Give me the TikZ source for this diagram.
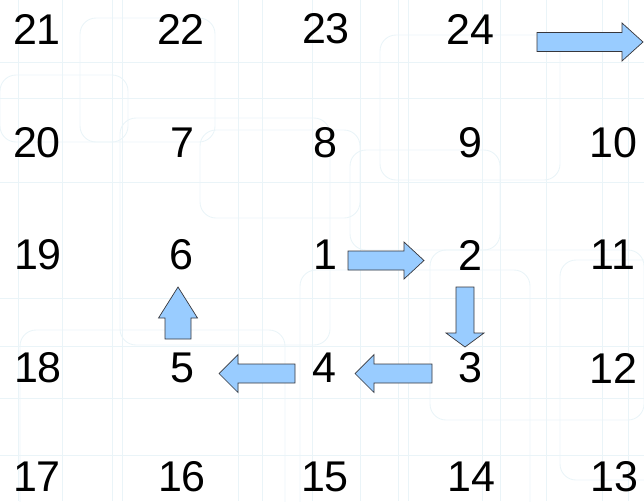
\documentclass[tikz,border=0pt]{standalone}
\usepackage{fontspec}
\newfontfamily\numfont{Liberation Sans}
\definecolor{arrowblue}{RGB}{153,204,255}
\definecolor{arrowline}{RGB}{55,55,60}
\definecolor{bgline}{RGB}{234,244,248}
% block arrow: tip, turn, length, half shaft, half head, head length
\newcommand\blockarrow[6]{%
  \draw[blk,shift={#1},rotate=#2] (0,0) -- (-#6,-#5) -- (-#6,-#4) -- (-#3,-#4)
    -- (-#3,#4) -- (-#6,#4) -- (-#6,#5) -- cycle;}

\begin{document}
\begin{tikzpicture}[x=1pt,y=-1pt,
  num/.style={inner sep=0pt,font=\numfont\fontsize{43}{50}\selectfont},
  blk/.style={draw=arrowline,fill=arrowblue,line width=0.7pt,line join=miter},
  bgbox/.style={draw=bgline,line width=0.9pt,rounded corners=16pt}]
\useasboundingbox (0,0) rectangle (644,501);
% faint slide background
\foreach \x in {18,62,112,122,238,262,312,360,398,408,482,500,546,602,628}
  \draw[bgline,line width=0.6pt] (\x,0) -- (\x,501);
\foreach \y in {62,98,182,298,346,398,455}
  \draw[bgline,line width=0.6pt] (0,\y) -- (644,\y);
\draw[bgbox] (80,18) rectangle (215,142);
\draw[bgbox] (0,75) rectangle (128,142);
\draw[bgbox] (120,118) rectangle (330,345);
\draw[bgbox] (200,130) rectangle (360,218);
\draw[bgbox] (380,35) rectangle (560,180);
\draw[bgbox] (350,150) rectangle (500,250);
\draw[bgbox] (300,270) rectangle (530,520);
\draw[bgbox] (20,330) rectangle (285,520);
\draw[bgbox] (430,250) rectangle (644,420);
\draw[bgbox] (560,260) rectangle (660,480);
% numbers
\node[num] (n21) at (37,29) {21};
\node[num] (n22) at (181,29) {22};
\node[num] (n23) at (326,29) {23};
\node[num] (n24) at (470,29) {24};
\node[num] (n20) at (37,143) {20};
\node[num] (n7) at (182,143) {7};
\node[num] (n8) at (325,143) {8};
\node[num] (n9) at (470,143) {9};
\node[num] (n10) at (613,143) {10};
\node[num] (n19) at (38,255) {19};
\node[num] (n6) at (181,255) {6};
\node[num] (n1) at (325,255) {1};
\node[num] (n2) at (470,255) {2};
\node[num] (n11) at (613,255) {11};
\node[num] (n18) at (38,368) {18};
\node[num] (n5) at (182,368) {5};
\node[num] (n4) at (324,368) {4};
\node[num] (n3) at (470,368) {3};
\node[num] (n12) at (613,368) {12};
\node[num] (n17) at (37,477) {17};
\node[num] (n16) at (182,477) {16};
\node[num] (n15) at (325,477) {15};
\node[num] (n14) at (471,477) {14};
\node[num] (n13) at (614,477) {13};
% block arrows
\blockarrow{(643,42)}{0}{106}{9.5}{19}{21}
\blockarrow{(424,260.5)}{0}{76}{9.5}{18.5}{20}
\blockarrow{(465,347)}{-90}{60}{9}{19}{14}
\blockarrow{(355,373.5)}{180}{77}{9.5}{19}{19}
\blockarrow{(219,373.5)}{180}{76}{9.5}{19}{19}
\blockarrow{(178,287)}{90}{52}{13}{19.5}{31}
\end{tikzpicture}
\end{document}
